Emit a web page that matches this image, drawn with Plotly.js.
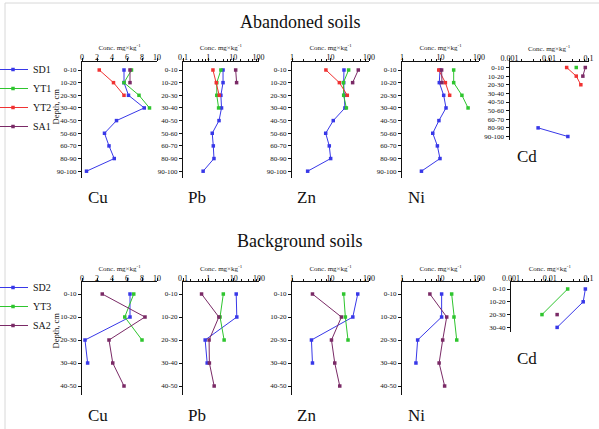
<!DOCTYPE html>
<html>
<head>
<meta charset="utf-8">
<script src="https://cdn.plot.ly/plotly-3.0.1.min.js"></script>
<style>html,body{margin:0;padding:0;background:#fff}#chart{width:599px;height:429px}</style>
</head>
<body>
<div id="chart"></div>
<script>
// ---------- data ----------
const depthA = ['0-10','10-20','20-30','30-40','40-50','50-60','60-70','80-90','90-100'];
const depthB = ['0-10','10-20','20-30','30-40','40-50'];
const depthCdB = ['0-10','10-20','20-30','30-40'];

const seriesTop = ['SD1','YT1','YT2','SA1'];
const seriesBottom = ['SD2','YT3','SA2'];
const elements = ['Cu','Pb','Zn','Ni','Cd'];

// Abandoned soils
const cu_SD1 = [5.6,5.6,6.2,8.3,4.6,3.0,3.6,4.3,0.6];
const cu_YT1 = [6.6,5.6,7.6,9.0];
const cu_YT2 = [2.3,4.2,5.6];
const cu_SA1 = [6.4,6.4];
const pb_SD1 = [3.9,3.9,3.2,3.4,2.7,1.45,1.6,1.7,0.63];
const pb_YT1 = [3.2,2.2,2.2,2.6];
const pb_YT2 = [1.55,2.1,2.75];
const pb_SA1 = [12.4,13.5];
const zn_SD1 = [22.4,22,22.7,23.7,11.8,7.5,9.3,10.1,2.55];
const zn_YT1 = [29.6,21.6,22,25.8];
const zn_YT2 = [7.6,17,27.3];
const zn_SA1 = [52.7,37.6];
const ni_SD1 = [9.7,9.3,12.1,13.9,9.1,6.3,8.3,9.7,3.2];
const ni_YT1 = [22,22,36,52];
const ni_YT2 = [9.0,13.4,17.3];
const ni_SA1 = [10.7,10.9];
const cd_SD1 = [null,null,null,null,null,null,null,0.0053,0.030];
const cd_YT1 = [0.049];
const cd_YT2 = [0.028,0.049,0.064];
const cd_SA1 = [0.083,0.072];

// Background soils
const cu_SD2 = [6.4,6.4,0.4,0.75];
const cu_YT3 = [6.9,5.7,8.0];
const cu_SA2 = [2.7,8.4,3.6,4.1,5.6];
const pb_SD2 = [12.6,13.3,0.75,0.9];
const pb_YT3 = [3.9,2.9,4.2];
const pb_SA2 = [0.54,2.6,1.07,1.1,1.7];
const zn_SD2 = [51,38,3.2,3.4];
const zn_YT3 = [22,24.3,28.5];
const zn_SA2 = [3.4,19.2,10.6,12.9,17.4];
const ni_SD2 = [10.7,10.7,2.55,2.3];
const ni_YT3 = [19.5,22.4,26.4];
const ni_SA2 = [5.3,14.5,11.4,9.2,12.8];
const cd_SD2 = [0.083,0.073,null,0.0155];
const cd_YT3 = [0.029,null,0.0063];
const cd_SA2 = [null,null,0.0155];

const linTicks = [0,2,4,6,8,10];
const pbTicks = [0.1,1,10,100];
const pbTickText = ['0,1','1','10','100'];
const znTicks = [1,10,100];
const znTickText = ['1','10','100'];
const cdTicks = [0.001,0.01,0.1];
const cdTickText = ['0.001','0.01','0.1'];

// ---------- styling ----------
const W = 599, H = 429;
const FONT = "'Liberation Serif', 'Times New Roman', serif";
const colors = {SD1:'#3838e8', SD2:'#3838e8', YT1:'#2ec52e', YT3:'#2ec52e', YT2:'#f03232', SA1:'#7a2a66', SA2:'#7a2a66'};
const px = v => v / W;
const py = v => 1 - v / H;

function minorLog(lo, hi) {
  const out = [];
  for (let e = lo; e < hi; e++) for (const m of [2,4,6,8]) out.push(m * Math.pow(10, e));
  return out;
}

const topData = {
  Cu:[cu_SD1,cu_YT1,cu_YT2,cu_SA1], Pb:[pb_SD1,pb_YT1,pb_YT2,pb_SA1],
  Zn:[zn_SD1,zn_YT1,zn_YT2,zn_SA1], Ni:[ni_SD1,ni_YT1,ni_YT2,ni_SA1], Cd:[cd_SD1,cd_YT1,cd_YT2,cd_SA1]
};
const bottomData = {
  Cu:[cu_SD2,cu_YT3,cu_SA2], Pb:[pb_SD2,pb_YT3,pb_SA2],
  Zn:[zn_SD2,zn_YT3,zn_SA2], Ni:[ni_SD2,ni_YT3,ni_SA2], Cd:[cd_SD2,cd_YT3,cd_SA2]
};

const xposA = {Cu:[82,157], Pb:[183,258.5], Zn:[292,369], Ni:[402,479], Cd:[509.5,588.5]};
const xposB = {Cu:[82,157], Pb:[183,259], Zn:[292,369], Ni:[402,479], Cd:[511,588.5]};
const axisCfg = {
  Cu:{type:'linear', range:[0,10], tickvals:linTicks, ticktext:linTicks.map(String)},
  Pb:{type:'log', range:[-1,2], tickvals:pbTicks, ticktext:pbTickText, minor:minorLog(-1,2)},
  Zn:{type:'log', range:[0,2], tickvals:znTicks, ticktext:znTickText, minor:minorLog(0,2)},
  Ni:{type:'log', range:[0,2], tickvals:znTicks, ticktext:znTickText, minor:minorLog(0,2)},
  Cd:{type:'log', range:[-3,-1], tickvals:cdTicks, ticktext:cdTickText, minor:minorLog(-3,-1)}
};

const data = [];
const layout = {
  width: W, height: H,
  margin:{l:0,r:0,t:0,b:0,pad:0,autoexpand:false},
  paper_bgcolor:'#fff', plot_bgcolor:'rgba(0,0,0,0)',
  font:{family:FONT, color:'#111', size:8},
  showlegend:true,
  legend:{x:px(-7), y:py(55), xanchor:'left', yanchor:'top', font:{family:FONT,size:10,color:'#111'}, bgcolor:'rgba(0,0,0,0)', tracegroupgap:0},
  legend2:{x:px(-7), y:py(273), xanchor:'left', yanchor:'top', font:{family:FONT,size:10,color:'#111'}, bgcolor:'rgba(0,0,0,0)', tracegroupgap:0},
  annotations:[], shapes:[]
};

function addRow(rowIdx, rowData, names, legendId, positions, yInfo) {
  elements.forEach((el, i) => {
    const n = rowIdx * 5 + i + 1;
    const xa = 'xaxis' + (n === 1 ? '' : n), ya = 'yaxis' + (n === 1 ? '' : n);
    const xr = 'x' + (n === 1 ? '' : n), yr = 'y' + (n === 1 ? '' : n);
    const cfg = axisCfg[el];
    const yi = el === 'Cd' ? yInfo.cd : yInfo.main;
    layout[xa] = {
      type: cfg.type, range: cfg.range, domain:[px(positions[el][0]), px(positions[el][1])],
      anchor: yr, side:'top', showline:true, linecolor:'#111', linewidth:1,
      showgrid:false, zeroline:false, ticks:'outside', ticklen:3, tickwidth:1, tickcolor:'#111',
      tickmode:'array', tickvals:cfg.tickvals, ticktext:cfg.ticktext, ticklabelstandoff:-6,
      tickfont:{family:FONT,size:8,color:'#111'},
      title:{text:'Conc. mg×kg<sup>-1</sup>', font:{family:FONT,size:7,color:'#222'}, standoff:1},
      fixedrange:true, automargin:false
    };
    if (cfg.minor) layout[xa].minor = {tickmode:'array', tickvals:cfg.minor, ticks:'outside', ticklen:2, tickcolor:'#111', showgrid:false};
    layout[ya] = {
      type:'category', categoryorder:'array', categoryarray: yi.cats,
      range: yi.range, domain:[py(yi.px[1]), py(yi.px[0])],
      anchor: xr, side:'left', showline:true, linecolor:'#111', linewidth:1,
      showgrid:false, zeroline:false, ticks:'outside', ticklen:3, tickwidth:1, tickcolor:'#111',
      tickfont:{family:FONT,size:7,color:'#111'}, fixedrange:true, automargin:false
    };
    rowData[el].forEach((vals, s) => {
      const name = names[s];
      data.push({
        type:'scatter', mode:'lines+markers', name:name, legendgroup:legendId + name, legend:legendId,
        showlegend: el === 'Cu',
        x: vals, y: yi.cats.slice(0, vals.length), connectgaps:true,
        xaxis:xr, yaxis:yr, cliponaxis:false,
        line:{color:colors[name], width:1},
        marker:{color:colors[name], size:3.5, symbol:'square'}
      });
    });
  });
}

addRow(0, topData, seriesTop, 'legend', xposA, {
  main:{cats:depthA, px:[61.5,178], range:[8.538,-0.672]},
  cd:{cats:depthA, px:[62,140], range:[8.406,-0.638]}
});
addRow(1, bottomData, seriesBottom, 'legend2', xposB, {
  main:{cats:depthB, px:[282,395], range:[4.391,-0.522]},
  cd:{cats:depthCdB, px:[282,332], range:[3.36,-0.547]}
});

// titles & labels
function ann(text, x, y, size, angle) {
  layout.annotations.push({text:text, x:px(x), y:py(y), xref:'paper', yref:'paper', xanchor:'center', yanchor:'middle', showarrow:false, textangle: angle || 0, font:{family:FONT,size:size,color:'#111'}});
}
ann('Abandoned soils', 300, 22, 18);
ann('Background soils', 300, 241, 18);
ann('Depth, cm', 55.5, 107, 8.5, -90);
ann('Depth, cm', 55.5, 331, 8.5, -90);
const labelX = {Cu:98, Pb:197, Zn:307, Ni:416, Cd:527};
elements.forEach(el => {
  ann(el, labelX[el], el === 'Cd' ? 157 : 197, 17);
  ann(el, labelX[el], el === 'Cd' ? 358 : 415, 17);
});
layout.shapes.push({type:'rect', xref:'paper', yref:'paper', x0:px(5), x1:px(605), y0:py(3), y1:py(435), line:{color:'#d8d8d8', width:1}});

Plotly.newPlot('chart', data, layout, {displayModeBar:false, staticPlot:true});
</script>
</body>
</html>
